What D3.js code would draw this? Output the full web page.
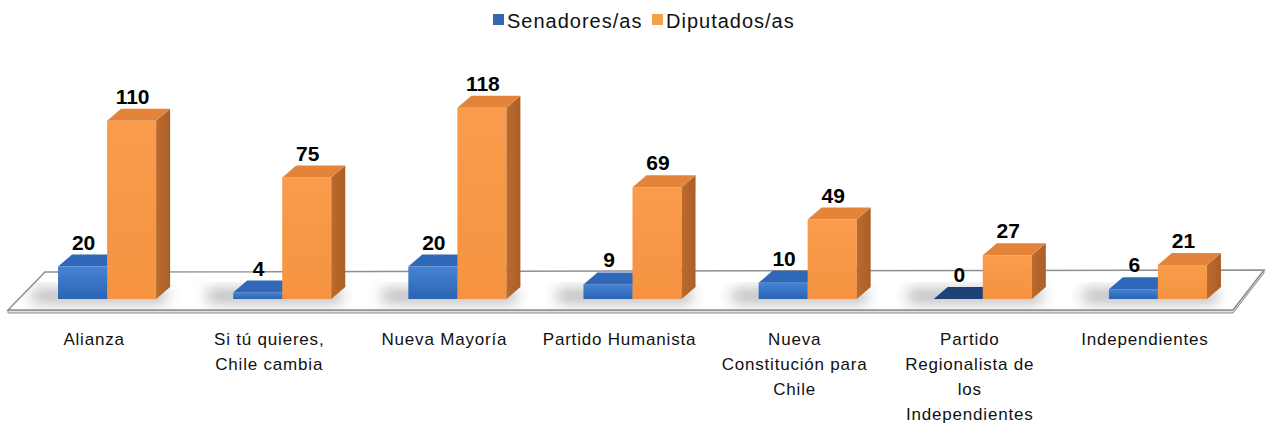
<!DOCTYPE html>
<html><head><meta charset="utf-8">
<script src="https://cdn.jsdelivr.net/npm/d3@7"></script>
<style>
html,body{margin:0;padding:0;background:#fff;}
svg{display:block;}
</style></head>
<body>
<svg id="chart" width="1273" height="426"></svg>
<script>
const categories = ["Alianza","Si tú quieres, Chile cambia","Nueva Mayoría","Partido Humanista","Nueva Constitución para Chile","Partido Regionalista de los Independientes","Independientes"];
const categoryLines = [["Alianza"],["Si tú quieres,","Chile cambia"],["Nueva Mayoría"],["Partido Humanista"],["Nueva","Constitución para","Chile"],["Partido","Regionalista de","los","Independientes"],["Independientes"]];
const seriesNames = ["Senadores/as","Diputados/as"];
const senadores = [20,4,20,9,10,0,6];
const diputados = [110,75,118,69,49,27,21];

const svg = d3.select("#chart");
const baseY = 299;
const DX = 14, DY = -12;

const x = d3.scaleBand().domain(categories).range([9, 1256]).paddingInner(0.44).paddingOuter(0.28);
const xs = d3.scaleBand().domain(seriesNames).range([0, x.bandwidth()]).padding(0);
const y = d3.scaleLinear().domain([0, 120]).range([baseY, baseY - 1.62*120]);

const colors = {
  "Senadores/as": {front:["#4584d6","#2c63b2"], top:"#2f68b8", side:"#224f90", zero:"#1f4176", legend:"#3567b0"},
  "Diputados/as": {front:["#f99c4c","#f59340"], top:"#e3843a", side:"#bd6a2c", zero:"#c06a2e", legend:"#f3a04f"}
};

const defs = svg.append("defs");
seriesNames.forEach((s,i)=>{
  const g = defs.append("linearGradient").attr("id","gf"+i).attr("x1",0).attr("y1",0).attr("x2",0).attr("y2",1);
  g.append("stop").attr("offset","0%").attr("stop-color",colors[s].front[0]);
  g.append("stop").attr("offset","100%").attr("stop-color",colors[s].front[1]);
  const gs = defs.append("linearGradient").attr("id","gs"+i).attr("x1",0).attr("y1",0).attr("x2",1).attr("y2",0);
  gs.append("stop").attr("offset","0%").attr("stop-color",colors[s].side);
  gs.append("stop").attr("offset","100%").attr("stop-color",d3.color(colors[s].side).darker(0.3));
});
const blur = defs.append("filter").attr("id","blur").attr("x","-50%").attr("y","-50%").attr("width","200%").attr("height","200%");
blur.append("feGaussianBlur").attr("stdDeviation",7);
const floorPts = [[8,310],[45,272],[1264,270],[1233,310]];
defs.append("clipPath").attr("id","floorClip").append("polygon").attr("points",floorPts.map(p=>p.join(",")).join(" "));

// Floor slab
svg.append("polygon")
  .attr("points",[[8,310],[1233,310],[1264,270],[1264,273],[1233,313],[8,313]].map(p=>p.join(",")).join(" "))
  .attr("fill","#e0e0e0").attr("stroke","#8c8c8c").attr("stroke-width",1);
svg.append("polygon")
  .attr("points",floorPts.map(p=>p.join(",")).join(" "))
  .attr("fill","#ffffff").attr("stroke","#8f8f8f").attr("stroke-width",1.5);

// Shadows on floor
const shadowG = svg.append("g").attr("clip-path","url(#floorClip)");
categories.forEach((c,i)=>{
  const x0 = x(c), x1 = x(c)+x.bandwidth();
  shadowG.append("rect")
    .attr("x", x0 - 26).attr("y", baseY - 10)
    .attr("width", x1 - x0 + 36).attr("height", 14)
    .attr("fill","#808080").attr("opacity",0.55).attr("filter","url(#blur)");
});

// Bars
const barsG = svg.append("g");
const labelsG = svg.append("g");
const seriesVals = [senadores, diputados];
categories.forEach((c,i)=>{
  seriesNames.forEach((s,j)=>{
    const v = seriesVals[j][i];
    const x0 = x(c) + xs(s), x1 = x0 + xs.bandwidth();
    const yt = y(v);
    const g = barsG.append("g");
    if (v > 0) {
      g.append("rect").attr("x",x0).attr("y",yt).attr("width",x1-x0).attr("height",baseY-yt).attr("fill","url(#gf"+j+")");
      g.append("polygon").attr("points",[[x1,yt],[x1+DX,yt+DY],[x1+DX,baseY+DY],[x1,baseY]].map(p=>p.join(",")).join(" ")).attr("fill","url(#gs"+j+")");
      g.append("polygon").attr("points",[[x0,yt],[x0+DX,yt+DY],[x1+DX,yt+DY],[x1,yt]].map(p=>p.join(",")).join(" ")).attr("fill",colors[s].top);
    } else {
      g.append("polygon").attr("points",[[x0,yt],[x0+DX,yt+DY],[x1+DX,yt+DY],[x1,yt]].map(p=>p.join(",")).join(" ")).attr("fill",colors[s].zero);
    }
    labelsG.append("text")
      .attr("x",(x0+x1)/2 + 1).attr("y", yt + DY - 5)
      .attr("text-anchor","middle")
      .attr("font-family","Liberation Sans, Arial, sans-serif").attr("font-weight","bold").attr("font-size",21)
      .attr("fill","#000").text(v);
  });
});

// Category labels
categories.forEach((c,i)=>{
  const cx = x(c) + x.bandwidth()/2 - 13;
  const t = svg.append("text").attr("text-anchor","middle")
    .attr("font-family","Liberation Sans, Arial, sans-serif").attr("font-size",17)
    .attr("letter-spacing","0.8px").attr("fill","#111");
  categoryLines[i].forEach((ln,k)=>{
    t.append("tspan").attr("x",cx).attr("y",345 + k*25).text(ln);
  });
});

// Legend
const legend = svg.append("g");
const legendX = [493, 652];
seriesNames.forEach((s,j)=>{
  legend.append("rect").attr("x",legendX[j]).attr("y",14).attr("width",11).attr("height",11)
    .attr("fill",colors[s].legend);
  legend.append("text").attr("x",legendX[j]+14).attr("y",28)
    .attr("font-family","Liberation Sans, Arial, sans-serif").attr("font-size",20)
    .attr("letter-spacing","1px").attr("fill","#111").text(s);
});
</script>
</body></html>
